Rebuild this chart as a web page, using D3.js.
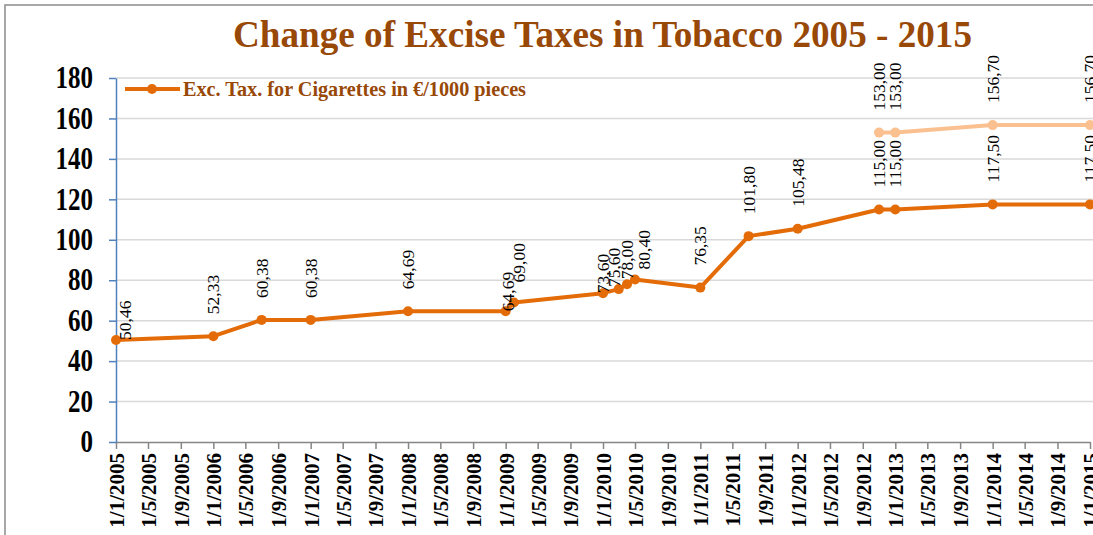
<!DOCTYPE html>
<html>
<head>
<meta charset="utf-8">
<script src="https://cdn.jsdelivr.net/npm/d3@7"></script>
<style>
  body { margin: 0; background: #fff; }
  text { font-family: "Liberation Serif", "Times New Roman", serif; }
</style>
</head>
<body>
<div id="chart"></div>
<script>
const width = 1093;
const height = 535;
const margin = { top: 78, right: 3, bottom: 93, left: 116 };

const title = "Change of Excise Taxes in Tobacco 2005 - 2015";
const legendLabel = "Exc. Tax. for Cigarettes in €/1000 pieces";

// main series: dates and values
const cigDates = ["2005-01-01", "2006-01-01", "2006-07-01", "2007-01-01", "2008-01-01",
    "2009-01-01", "2009-02-01", "2010-01-01", "2010-03-01", "2010-04-01", "2010-05-01",
    "2011-01-01", "2011-07-01", "2012-01-01", "2012-11-01", "2013-01-01", "2014-01-01", "2015-01-01"];
const cigValues = [50.46, 52.33, 60.38, 60.38, 64.69, 64.69, 69.00, 73.60, 75.60, 78.00, 80.40,
    76.35, 101.80, 105.48, 115.00, 115.00, 117.50, 117.50];

// upper (light) series
const upperDates = ["2012-11-01", "2013-01-01", "2014-01-01", "2015-01-01"];
const upperValues = [153.00, 153.00, 156.70, 156.70];

const yTicks = [0, 20, 40, 60, 80, 100, 120, 140, 160, 180];

const parse = d3.timeParse("%Y-%m-%d");
const fmtLabel = v => v.toFixed(2).replace(".", ",");

const svg = d3.select("#chart")
    .append("svg")
    .attr("width", width)
    .attr("height", height);

svg.append("rect")
    .attr("width", width).attr("height", height)
    .attr("fill", "#fff");

// chart border
svg.append("rect")
    .attr("x", 5).attr("y", 5)
    .attr("width", 1200).attr("height", 700)
    .attr("fill", "none")
    .attr("stroke", "#8c8c8c")
    .attr("stroke-width", 1.5);

const innerW = 1090 - margin.left;
const innerH = 442 - margin.top;

const x = d3.scaleTime()
    .domain([parse("2005-01-01"), parse("2015-01-01")])
    .range([0, innerW]);

const y = d3.scaleLinear()
    .domain([0, 180])
    .range([innerH, 0]);

const g = svg.append("g")
    .attr("transform", `translate(${margin.left}, ${margin.top})`);

// gridlines
g.selectAll("line.grid")
    .data(yTicks.filter(d => d > 0))
    .enter()
    .append("line")
    .attr("class", "grid")
    .attr("x1", 0)
    .attr("x2", width - margin.left)
    .attr("y1", d => y(d))
    .attr("y2", d => y(d))
    .attr("stroke", "#d9d9d9")
    .attr("stroke-width", 1.5);

// x axis
const xAxis = d3.axisBottom(x)
    .ticks(d3.timeMonth.every(4))
    .tickFormat(d3.timeFormat("%-d/%-m/%Y"))
    .tickSize(7)
    .tickSizeOuter(0);

const xg = g.append("g")
    .attr("transform", `translate(0, ${innerH})`)
    .call(xAxis);
xg.select(".domain").attr("stroke", "#868686").attr("stroke-width", 1.5);
xg.selectAll(".tick line").attr("stroke", "#868686").attr("stroke-width", 1.5);
xg.selectAll("text")
    .attr("transform", "rotate(-90)")
    .attr("x", -11)
    .attr("y", 0)
    .attr("dy", "0.35em")
    .style("text-anchor", "end")
    .style("font-family", "Liberation Serif")
    .style("font-size", "21px")
    .style("font-weight", "bold")
    .attr("fill", "#000");

// y axis
const yAxis = d3.axisLeft(y)
    .tickValues(yTicks)
    .tickSize(7)
    .tickSizeOuter(0);

const yg = g.append("g").call(yAxis);
yg.select(".domain").attr("stroke", "#4f81bd").attr("stroke-width", 1.5);
yg.selectAll(".tick line").attr("stroke", "#4f81bd").attr("stroke-width", 1.5);
yg.selectAll("text")
    .attr("x", -23)
    .attr("dy", "0.3em")
    .attr("transform", "scale(1,1.3)")
    .style("font-family", "Liberation Serif")
    .style("font-size", "25px")
    .style("font-weight", "bold")
    .attr("fill", "#000");

const line = d3.line()
    .x(d => x(d.date))
    .y(d => y(d.value));

const cig = cigDates.map((d, i) => ({ date: parse(d), value: cigValues[i] }));
const upper = upperDates.map((d, i) => ({ date: parse(d), value: upperValues[i] }));

function drawSeries(data, color) {
    g.append("path")
        .datum(data)
        .attr("fill", "none")
        .attr("stroke", color)
        .attr("stroke-width", 4)
        .attr("stroke-linejoin", "round")
        .attr("d", line);

    g.selectAll(null)
        .data(data)
        .enter()
        .append("circle")
        .attr("cx", d => x(d.date))
        .attr("cy", d => y(d.value))
        .attr("r", 5)
        .attr("fill", color);
}

drawSeries(upper, "#fac090");
drawSeries(cig, "#e36c09");

// label nudges where the labels were pulled in on the original
const nudge = { 0: [9, 0], 5: [2, 0], 6: [5, 20], 7: [0, 0], 8: [-5, 2], 9: [0, 5], 10: [9, 10] };

function drawLabels(data, nudges) {
    g.selectAll(null)
        .data(data)
        .enter()
        .append("text")
        .attr("transform", (d, i) => {
            const n = nudges[i] || [0, 22];
            return `translate(${x(d.date) + n[0]}, ${y(d.value) - n[1]}) rotate(-90)`;
        })
        .attr("dy", "0.35em")
        .style("font-family", "Liberation Serif")
        .style("font-size", "17.5px")
        .attr("fill", "#000")
        .text(d => fmtLabel(d.value));
}

drawLabels(cig, nudge);
drawLabels(upper, {});

// title
svg.append("text")
    .attr("x", 233)
    .attr("y", 47)
    .attr("textLength", 739)
    .attr("lengthAdjust", "spacingAndGlyphs")
    .style("font-size", "37px")
    .style("font-weight", "bold")
    .attr("fill", "#984807")
    .text(title);

// legend
const lg = svg.append("g").attr("transform", "translate(125, 89)");
lg.append("line")
    .attr("x1", 0).attr("x2", 55)
    .attr("stroke", "#e36c09")
    .attr("stroke-width", 4);
lg.append("circle")
    .attr("cx", 27).attr("r", 5)
    .attr("fill", "#e36c09");
lg.append("text")
    .attr("x", 58)
    .attr("y", 7)
    .attr("textLength", 343)
    .attr("lengthAdjust", "spacingAndGlyphs")
    .style("font-size", "20px")
    .style("font-weight", "bold")
    .attr("fill", "#984807")
    .text(legendLabel);
</script>
</body>
</html>
